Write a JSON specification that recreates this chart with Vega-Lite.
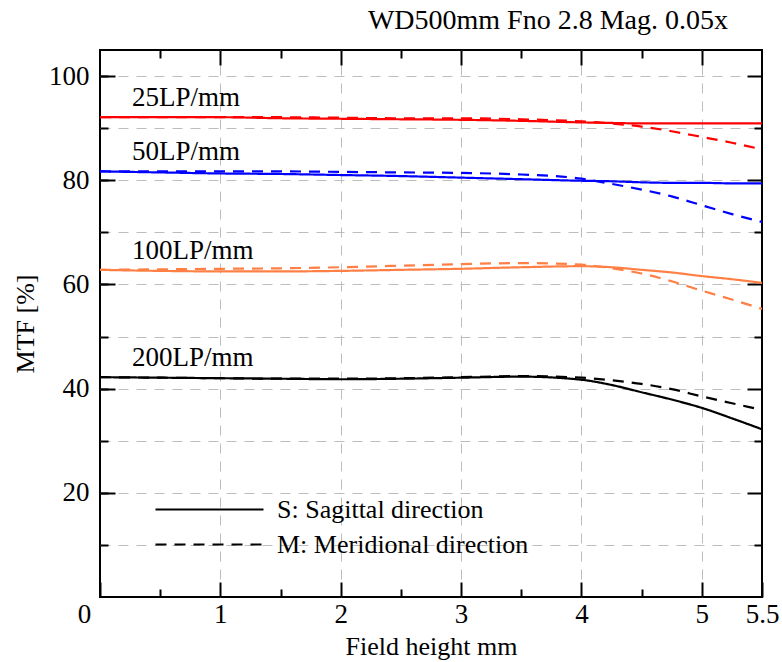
{
  "$schema": "https://vega.github.io/schema/vega-lite/v6.json",
  "width": 662,
  "height": 547,
  "autosize": "none",
  "padding": {"left": 100, "top": 50, "right": 20, "bottom": 65},
  "background": "white",
  "config": {
    "view": {"stroke": "black", "strokeWidth": 2},
    "axis": {
      "labelFont": "Liberation Serif", "labelFontSize": 27, "labelColor": "black",
      "titleFont": "Liberation Serif", "titleFontSize": 26, "titleFontWeight": "normal", "titleColor": "black",
      "tickColor": "black", "tickWidth": 2,
      "gridColor": "#bdbdbd", "gridDash": [10, 8], "gridWidth": 1,
      "domain": false
    }
  },
  "title": {
    "text": "WD500mm Fno 2.8 Mag. 0.05x",
    "anchor": "end", "frame": "group", "dx": -34, "dy": 23, "offset": 9, "baseline": "bottom",
    "font": "Liberation Serif", "fontSize": 28, "fontWeight": "normal", "color": "black"
  },
  "data": {"values": [
    {"freq": "25LP/mm", "dir": "S", "x": 0, "mtf": 92.1},
    {"freq": "25LP/mm", "dir": "S", "x": 0.5, "mtf": 92.1},
    {"freq": "25LP/mm", "dir": "S", "x": 1, "mtf": 92.1},
    {"freq": "25LP/mm", "dir": "S", "x": 1.5, "mtf": 91.9},
    {"freq": "25LP/mm", "dir": "S", "x": 2, "mtf": 91.8},
    {"freq": "25LP/mm", "dir": "S", "x": 2.5, "mtf": 91.7},
    {"freq": "25LP/mm", "dir": "S", "x": 3, "mtf": 91.6},
    {"freq": "25LP/mm", "dir": "S", "x": 3.5, "mtf": 91.4},
    {"freq": "25LP/mm", "dir": "S", "x": 4, "mtf": 91.1},
    {"freq": "25LP/mm", "dir": "S", "x": 4.25, "mtf": 91.0},
    {"freq": "25LP/mm", "dir": "S", "x": 4.5, "mtf": 90.9},
    {"freq": "25LP/mm", "dir": "S", "x": 4.75, "mtf": 90.9},
    {"freq": "25LP/mm", "dir": "S", "x": 5, "mtf": 90.9},
    {"freq": "25LP/mm", "dir": "S", "x": 5.25, "mtf": 90.9},
    {"freq": "25LP/mm", "dir": "S", "x": 5.5, "mtf": 90.9},
    {"freq": "25LP/mm", "dir": "M", "x": 0, "mtf": 92.1},
    {"freq": "25LP/mm", "dir": "M", "x": 0.5, "mtf": 92.1},
    {"freq": "25LP/mm", "dir": "M", "x": 1, "mtf": 92.1},
    {"freq": "25LP/mm", "dir": "M", "x": 1.5, "mtf": 92.1},
    {"freq": "25LP/mm", "dir": "M", "x": 2, "mtf": 92.0},
    {"freq": "25LP/mm", "dir": "M", "x": 2.5, "mtf": 91.9},
    {"freq": "25LP/mm", "dir": "M", "x": 3, "mtf": 91.9},
    {"freq": "25LP/mm", "dir": "M", "x": 3.5, "mtf": 91.7},
    {"freq": "25LP/mm", "dir": "M", "x": 4, "mtf": 91.3},
    {"freq": "25LP/mm", "dir": "M", "x": 4.25, "mtf": 90.9},
    {"freq": "25LP/mm", "dir": "M", "x": 4.5, "mtf": 90.3},
    {"freq": "25LP/mm", "dir": "M", "x": 4.75, "mtf": 89.4},
    {"freq": "25LP/mm", "dir": "M", "x": 5, "mtf": 88.3},
    {"freq": "25LP/mm", "dir": "M", "x": 5.25, "mtf": 87.2},
    {"freq": "25LP/mm", "dir": "M", "x": 5.5, "mtf": 85.9},
    {"freq": "50LP/mm", "dir": "S", "x": 0, "mtf": 81.7},
    {"freq": "50LP/mm", "dir": "S", "x": 0.5, "mtf": 81.5},
    {"freq": "50LP/mm", "dir": "S", "x": 1, "mtf": 81.3},
    {"freq": "50LP/mm", "dir": "S", "x": 1.5, "mtf": 81.2},
    {"freq": "50LP/mm", "dir": "S", "x": 2, "mtf": 81.0},
    {"freq": "50LP/mm", "dir": "S", "x": 2.5, "mtf": 80.8},
    {"freq": "50LP/mm", "dir": "S", "x": 3, "mtf": 80.5},
    {"freq": "50LP/mm", "dir": "S", "x": 3.5, "mtf": 80.2},
    {"freq": "50LP/mm", "dir": "S", "x": 4, "mtf": 79.9},
    {"freq": "50LP/mm", "dir": "S", "x": 4.25, "mtf": 79.8},
    {"freq": "50LP/mm", "dir": "S", "x": 4.5, "mtf": 79.6},
    {"freq": "50LP/mm", "dir": "S", "x": 4.75, "mtf": 79.5},
    {"freq": "50LP/mm", "dir": "S", "x": 5, "mtf": 79.5},
    {"freq": "50LP/mm", "dir": "S", "x": 5.25, "mtf": 79.4},
    {"freq": "50LP/mm", "dir": "S", "x": 5.5, "mtf": 79.4},
    {"freq": "50LP/mm", "dir": "M", "x": 0, "mtf": 81.7},
    {"freq": "50LP/mm", "dir": "M", "x": 0.5, "mtf": 81.7},
    {"freq": "50LP/mm", "dir": "M", "x": 1, "mtf": 81.7},
    {"freq": "50LP/mm", "dir": "M", "x": 1.5, "mtf": 81.7},
    {"freq": "50LP/mm", "dir": "M", "x": 2, "mtf": 81.6},
    {"freq": "50LP/mm", "dir": "M", "x": 2.5, "mtf": 81.5},
    {"freq": "50LP/mm", "dir": "M", "x": 3, "mtf": 81.4},
    {"freq": "50LP/mm", "dir": "M", "x": 3.5, "mtf": 81.1},
    {"freq": "50LP/mm", "dir": "M", "x": 4, "mtf": 80.3},
    {"freq": "50LP/mm", "dir": "M", "x": 4.25, "mtf": 79.3},
    {"freq": "50LP/mm", "dir": "M", "x": 4.5, "mtf": 78.2},
    {"freq": "50LP/mm", "dir": "M", "x": 4.75, "mtf": 76.9},
    {"freq": "50LP/mm", "dir": "M", "x": 5, "mtf": 75.2},
    {"freq": "50LP/mm", "dir": "M", "x": 5.25, "mtf": 73.5},
    {"freq": "50LP/mm", "dir": "M", "x": 5.5, "mtf": 72.0},
    {"freq": "100LP/mm", "dir": "S", "x": 0, "mtf": 62.8},
    {"freq": "100LP/mm", "dir": "S", "x": 0.5, "mtf": 62.6},
    {"freq": "100LP/mm", "dir": "S", "x": 1, "mtf": 62.5},
    {"freq": "100LP/mm", "dir": "S", "x": 1.5, "mtf": 62.5},
    {"freq": "100LP/mm", "dir": "S", "x": 2, "mtf": 62.6},
    {"freq": "100LP/mm", "dir": "S", "x": 2.5, "mtf": 62.8},
    {"freq": "100LP/mm", "dir": "S", "x": 3, "mtf": 63.0},
    {"freq": "100LP/mm", "dir": "S", "x": 3.5, "mtf": 63.3},
    {"freq": "100LP/mm", "dir": "S", "x": 4, "mtf": 63.5},
    {"freq": "100LP/mm", "dir": "S", "x": 4.25, "mtf": 63.3},
    {"freq": "100LP/mm", "dir": "S", "x": 4.5, "mtf": 62.8},
    {"freq": "100LP/mm", "dir": "S", "x": 4.75, "mtf": 62.3},
    {"freq": "100LP/mm", "dir": "S", "x": 5, "mtf": 61.6},
    {"freq": "100LP/mm", "dir": "S", "x": 5.25, "mtf": 61.0},
    {"freq": "100LP/mm", "dir": "S", "x": 5.5, "mtf": 60.3},
    {"freq": "100LP/mm", "dir": "M", "x": 0, "mtf": 62.8},
    {"freq": "100LP/mm", "dir": "M", "x": 0.5, "mtf": 62.9},
    {"freq": "100LP/mm", "dir": "M", "x": 1, "mtf": 63.0},
    {"freq": "100LP/mm", "dir": "M", "x": 1.5, "mtf": 63.1},
    {"freq": "100LP/mm", "dir": "M", "x": 2, "mtf": 63.3},
    {"freq": "100LP/mm", "dir": "M", "x": 2.5, "mtf": 63.6},
    {"freq": "100LP/mm", "dir": "M", "x": 3, "mtf": 63.9},
    {"freq": "100LP/mm", "dir": "M", "x": 3.5, "mtf": 64.1},
    {"freq": "100LP/mm", "dir": "M", "x": 4, "mtf": 63.8},
    {"freq": "100LP/mm", "dir": "M", "x": 4.25, "mtf": 63.1},
    {"freq": "100LP/mm", "dir": "M", "x": 4.5, "mtf": 62.1},
    {"freq": "100LP/mm", "dir": "M", "x": 4.75, "mtf": 60.6},
    {"freq": "100LP/mm", "dir": "M", "x": 5, "mtf": 58.8},
    {"freq": "100LP/mm", "dir": "M", "x": 5.25, "mtf": 57.1},
    {"freq": "100LP/mm", "dir": "M", "x": 5.5, "mtf": 55.3},
    {"freq": "200LP/mm", "dir": "S", "x": 0, "mtf": 42.2},
    {"freq": "200LP/mm", "dir": "S", "x": 0.5, "mtf": 42.1},
    {"freq": "200LP/mm", "dir": "S", "x": 1, "mtf": 42.0},
    {"freq": "200LP/mm", "dir": "S", "x": 1.5, "mtf": 41.9},
    {"freq": "200LP/mm", "dir": "S", "x": 2, "mtf": 41.8},
    {"freq": "200LP/mm", "dir": "S", "x": 2.5, "mtf": 41.9},
    {"freq": "200LP/mm", "dir": "S", "x": 3, "mtf": 42.1},
    {"freq": "200LP/mm", "dir": "S", "x": 3.5, "mtf": 42.3},
    {"freq": "200LP/mm", "dir": "S", "x": 4, "mtf": 41.7},
    {"freq": "200LP/mm", "dir": "S", "x": 4.25, "mtf": 40.7},
    {"freq": "200LP/mm", "dir": "S", "x": 4.5, "mtf": 39.3},
    {"freq": "200LP/mm", "dir": "S", "x": 4.75, "mtf": 37.9},
    {"freq": "200LP/mm", "dir": "S", "x": 5, "mtf": 36.3},
    {"freq": "200LP/mm", "dir": "S", "x": 5.25, "mtf": 34.3},
    {"freq": "200LP/mm", "dir": "S", "x": 5.5, "mtf": 32.2},
    {"freq": "200LP/mm", "dir": "M", "x": 0, "mtf": 42.2},
    {"freq": "200LP/mm", "dir": "M", "x": 0.5, "mtf": 42.1},
    {"freq": "200LP/mm", "dir": "M", "x": 1, "mtf": 42.0},
    {"freq": "200LP/mm", "dir": "M", "x": 1.5, "mtf": 41.9},
    {"freq": "200LP/mm", "dir": "M", "x": 2, "mtf": 41.9},
    {"freq": "200LP/mm", "dir": "M", "x": 2.5, "mtf": 42.0},
    {"freq": "200LP/mm", "dir": "M", "x": 3, "mtf": 42.2},
    {"freq": "200LP/mm", "dir": "M", "x": 3.5, "mtf": 42.4},
    {"freq": "200LP/mm", "dir": "M", "x": 4, "mtf": 42.1},
    {"freq": "200LP/mm", "dir": "M", "x": 4.25, "mtf": 41.6},
    {"freq": "200LP/mm", "dir": "M", "x": 4.5, "mtf": 40.9},
    {"freq": "200LP/mm", "dir": "M", "x": 4.75, "mtf": 39.9},
    {"freq": "200LP/mm", "dir": "M", "x": 5, "mtf": 38.5},
    {"freq": "200LP/mm", "dir": "M", "x": 5.25, "mtf": 37.2},
    {"freq": "200LP/mm", "dir": "M", "x": 5.5, "mtf": 35.9}
  ]},
  "layer": [
    {
      "mark": {"type": "line", "strokeWidth": 2.2, "interpolate": "monotone"},
      "encoding": {
        "x": {
          "field": "x", "type": "quantitative",
          "scale": {"domain": [0, 5.5], "nice": false, "zero": false},
          "title": "Field height mm",
          "axis": {
            "orient": "bottom",
            "values": [0, 1, 2, 3, 4, 5, 5.5],
            "labelExpr": "'' + datum.value",
            "labelOverlap": false, "labelFlush": false, "labelBound": false,
            "labelOffset": {"condition": {"test": "datum.value === 0", "value": -16}, "value": 0},
            "grid": false, "tickSize": -15, "labelPadding": 19, "titlePadding": 6
          }
        },
        "y": {
          "field": "mtf", "type": "quantitative",
          "scale": {"domain": [0, 105], "nice": false, "zero": false},
          "title": "MTF [%]",
          "axis": {
            "orient": "left",
            "values": [20, 40, 60, 80, 100],
            "labelOverlap": false, "labelFlush": false, "labelBound": false,
            "grid": false, "tickSize": -15, "labelPadding": 26, "titlePadding": 10
          }
        },
        "color": {
          "field": "freq", "type": "nominal",
          "scale": {"domain": ["25LP/mm", "50LP/mm", "100LP/mm", "200LP/mm"], "range": ["#ff0000", "#0000ff", "#ff7f45", "#000000"]},
          "legend": null
        },
        "strokeDash": {
          "field": "dir", "type": "nominal",
          "scale": {"domain": ["S", "M"], "range": [[1, 0], [11, 8]]},
          "legend": {
            "orient": "none", "legendX": 95, "legendY": 445, "title": null, "padding": 0,
            "symbolType": "M-4,0H4", "symbolSize": 729, "symbolStrokeWidth": 2, "symbolStrokeColor": "black",
            "labelFont": "Liberation Serif", "labelFontSize": 26, "labelColor": "black", "labelOffset": 53, "labelLimit": 0,
            "rowPadding": 7,
            "labelExpr": "datum.label === 'S' ? 'S: Sagittal direction' : 'M: Meridional direction'"
          }
        }
      }
    },
    {
      "transform": [{"filter": "datum.x === 0 && datum.dir === 'S'"}],
      "mark": {"type": "text", "align": "left", "baseline": "middle", "dx": 32, "dy": -19, "font": "Liberation Serif", "fontSize": 27, "color": "black"},
      "encoding": {
        "x": {
          "field": "x", "type": "quantitative",
          "axis": {"orient": "top", "title": null, "labels": false, "grid": true, "values": [1, 2, 3, 4, 5], "tickSize": -15}
        },
        "y": {
          "field": "mtf", "type": "quantitative",
          "axis": {"orient": "right", "title": null, "labels": false, "grid": false, "values": [20, 40, 60, 80, 100], "tickSize": -15}
        },
        "text": {"field": "freq", "type": "nominal"}
      }
    },
    {
      "transform": [{"filter": "datum.x === 0 && datum.dir === 'S' && datum.freq === '25LP/mm'"}],
      "mark": {"type": "point", "opacity": 0},
      "encoding": {
        "x": {
          "field": "x", "type": "quantitative",
          "axis": {"orient": "bottom", "title": null, "labels": false, "grid": false, "values": [0.5, 1.5, 2.5, 3.5, 4.5], "tickSize": -8}
        },
        "y": {
          "field": "mtf", "type": "quantitative",
          "axis": {"orient": "left", "title": null, "labels": false, "grid": true, "values": [10, 20, 30, 40, 50, 60, 70, 80, 90, 100], "tickSize": -8}
        }
      }
    },
    {
      "transform": [{"filter": "datum.x === 0 && datum.dir === 'S' && datum.freq === '25LP/mm'"}],
      "mark": {"type": "point", "opacity": 0},
      "encoding": {
        "x": {
          "field": "x", "type": "quantitative",
          "axis": {"orient": "top", "title": null, "labels": false, "grid": false, "values": [0.5, 1.5, 2.5, 3.5, 4.5], "tickSize": -8}
        },
        "y": {
          "field": "mtf", "type": "quantitative",
          "axis": {"orient": "right", "title": null, "labels": false, "grid": false, "values": [10, 30, 50, 70, 90], "tickSize": -8}
        }
      }
    }
  ],
  "resolve": {"axis": {"x": "independent", "y": "independent"}}
}
